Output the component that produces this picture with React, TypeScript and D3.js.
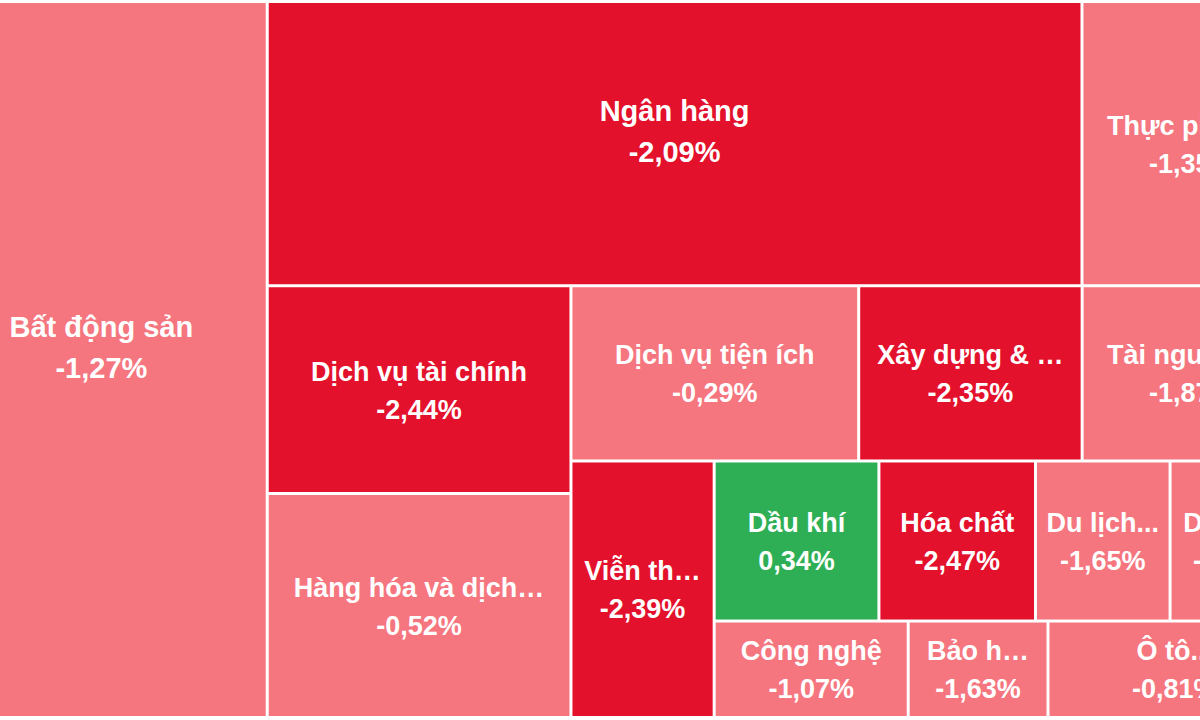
import React, { useMemo } from "react";
import * as d3 from "d3";

// Sector names shown in the reference (truncated as displayed)
const labels = [
  "Bất động sản",
  "Ngân hàng",
  "Thực phẩm...",
  "Dịch vụ tài chính",
  "Hàng hóa và dịch…",
  "Dịch vụ tiện ích",
  "Xây dựng & …",
  "Tài nguyên…",
  "Viễn th…",
  "Dầu khí",
  "Hóa chất",
  "Du lịch...",
  "Dệt may",
  "Công nghệ",
  "Bảo h…",
  "Ô tô...",
];

// Daily change, percent
const changes = [
  -1.27, -2.09, -1.35, -2.44, -0.52, -0.29, -2.35, -1.87, -2.39, 0.34, -2.47, -1.65, -1.12,
  -1.07, -1.63, -0.81,
];

// Relative size (market weight) of each sector
const weights = [
  236.0, 230.1, 62.0, 62.7, 67.6, 50.1, 38.9, 38.2, 36.5, 26.2, 24.9, 21.4, 20.9, 18.6, 13.4,
  24.3,
];

// Nesting of the layout (slice / dice alternating by depth)
const groups = [
  "",
  "A/T",
  "A/T",
  "A/B/C",
  "A/B/C",
  "A/B/R/R1",
  "A/B/R/R1",
  "A/B/R/R1",
  "A/B/R/R2",
  "A/B/R/R2/Q/Q1",
  "A/B/R/R2/Q/Q1",
  "A/B/R/R2/Q/Q1",
  "A/B/R/R2/Q/Q1",
  "A/B/R/R2/Q/Q2",
  "A/B/R/R2/Q/Q2",
  "A/B/R/R2/Q/Q2",
];

type Node = { name: string; value?: number; change?: number; label?: string; children?: Node[] };

function buildTree(): Node {
  const root: Node = { name: "root", children: [] };
  labels.forEach((label, i) => {
    let parent = root;
    const path = groups[i] ? groups[i].split("/") : [];
    for (const key of path) {
      let next = parent.children!.find((c) => c.name === key && c.children);
      if (!next) {
        next = { name: key, children: [] };
        parent.children!.push(next);
      }
      parent = next;
    }
    parent.children!.push({ name: label, label, value: weights[i], change: changes[i] });
  });
  return root;
}

const W = 1200;
const H = 720;
const LAYOUT_X = -63;
const LAYOUT_Y = 3;
const LAYOUT_W = 1363;
const LAYOUT_H = 713;

const color = d3
  .scaleThreshold<number, string>()
  .domain([-2, 0])
  .range(["#E3112B", "#F5767F", "#2EAF55"]);

// larger cells get a slightly larger label
const isBig = (area: number) => area > 100000;

const fmt = (v: number) => d3.format(".2f")(v).replace(".", ",").replace("−", "-") + "%";

export default function App() {
  const leaves = useMemo(() => {
    const root = d3
      .hierarchy<Node>(buildTree())
      .sum((d) => d.value ?? 0);
    d3
      .treemap<Node>()
      .tile(d3.treemapSliceDice)
      .size([LAYOUT_W, LAYOUT_H])
      .paddingInner(3)
      .round(false)(root);
    return root.leaves() as d3.HierarchyRectangularNode<Node>[];
  }, []);

  return (
    <svg
      width={W}
      height={H}
      style={{ position: "absolute", left: 0, top: 0, display: "block" }}
    >
      <rect width={W} height={H} fill="#ffffff" />
      <g transform={`translate(${LAYOUT_X},${LAYOUT_Y})`}>
        {leaves.map((d, i) => {
          const cx = (d.x0 + d.x1) / 2;
          const cy = (d.y0 + d.y1) / 2;
          const big = isBig((d.x1 - d.x0) * (d.y1 - d.y0));
          const fs = big ? 29 : 27;
          const y1 = big ? cy - 23 : cy - 9;
          const y2 = big ? cy + 18 : cy + 29;
          return (
            <g key={i}>
              <rect
                x={d.x0}
                y={d.y0}
                width={d.x1 - d.x0}
                height={d.y1 - d.y0}
                fill={color(d.data.change!)}
              />
              <text
                x={cx}
                y={y1}
                textAnchor="middle"
                fill="#ffffff"
                fontFamily="'Liberation Sans', Arial, sans-serif"
                fontWeight="bold"
                fontSize={fs}
              >
                {d.data.label}
              </text>
              <text
                x={cx}
                y={y2}
                textAnchor="middle"
                fill="#ffffff"
                fontFamily="'Liberation Sans', Arial, sans-serif"
                fontWeight="bold"
                fontSize={fs}
              >
                {fmt(d.data.change!)}
              </text>
            </g>
          );
        })}
      </g>
    </svg>
  );
}
